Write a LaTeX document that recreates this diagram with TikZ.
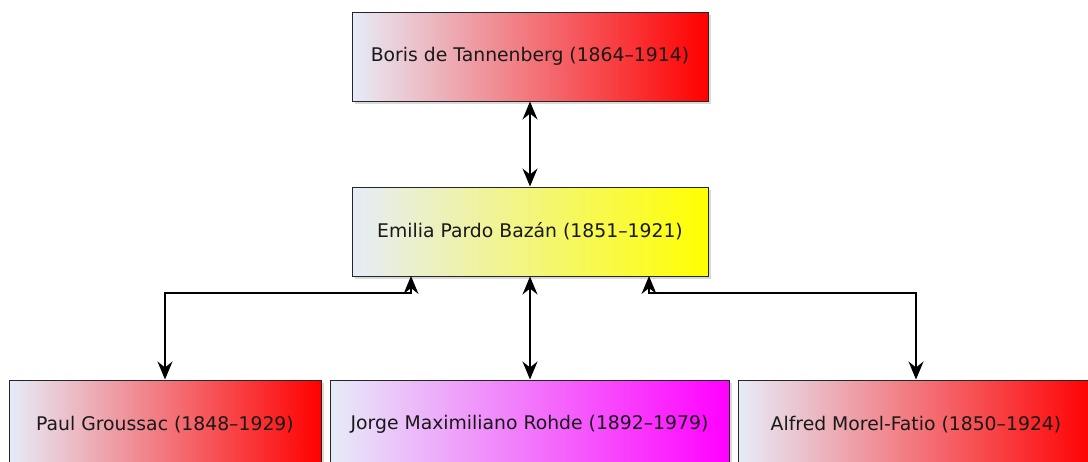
\documentclass[tikz,border=0pt]{standalone}
\usepackage{fontspec}
\setmainfont{DejaVu Sans}
\usetikzlibrary{arrows.meta,shadows}
\definecolor{pale}{RGB}{230,236,248}
\tikzset{
  person/.style={draw=black!85, line width=1pt, minimum height=89pt, inner sep=0pt,
    left color=pale, font=\fontsize{18.8}{22}\selectfont, text=black!90,
    drop shadow={opacity=0.3, shadow xshift=2.5pt, shadow yshift=-2.5pt}},
  tip/.tip={Stealth[length=18pt,width=15pt,inset=6pt]},
  link/.style={line width=1.6pt, tip-tip}
}
\begin{document}
\begin{tikzpicture}[x=1pt,y=-1pt]
\useasboundingbox (0,0) rectangle (1088,461);
\clip (0,0) rectangle (1088,461);
\node[person, right color=red, minimum width=356pt] (boris) at (530,56.5) {Boris de Tannenberg (1864–1914)};
\node[person, right color=yellow, minimum width=356pt] (emilia) at (530,231.5) {Emilia Pardo Bazán (1851–1921)};
\node[person, right color=red, minimum width=312pt] (paul) at (165,424.5) {Paul Groussac (1848–1929)};
\node[person, right color=magenta, minimum width=399pt] (jorge) at (529.5,424.5) {Jorge Maximiliano Rohde (1892–1979)};
\node[person, right color=red, minimum width=356pt] (alfred) at (916,424.5) {Alfred Morel-Fatio (1850–1924)};
\coordinate (ebl) at (411,276);
\coordinate (ebr) at (649,276);
\draw[link] (boris.south -| emilia.south) -- (emilia.north);
\draw[link] (emilia.south) -- (emilia.south |- jorge.north);
\draw[link] (ebl) -- (411,293) -| (paul.north);
\draw[link] (ebr) -- (649,293) -| (alfred.north);
\end{tikzpicture}
\end{document}
